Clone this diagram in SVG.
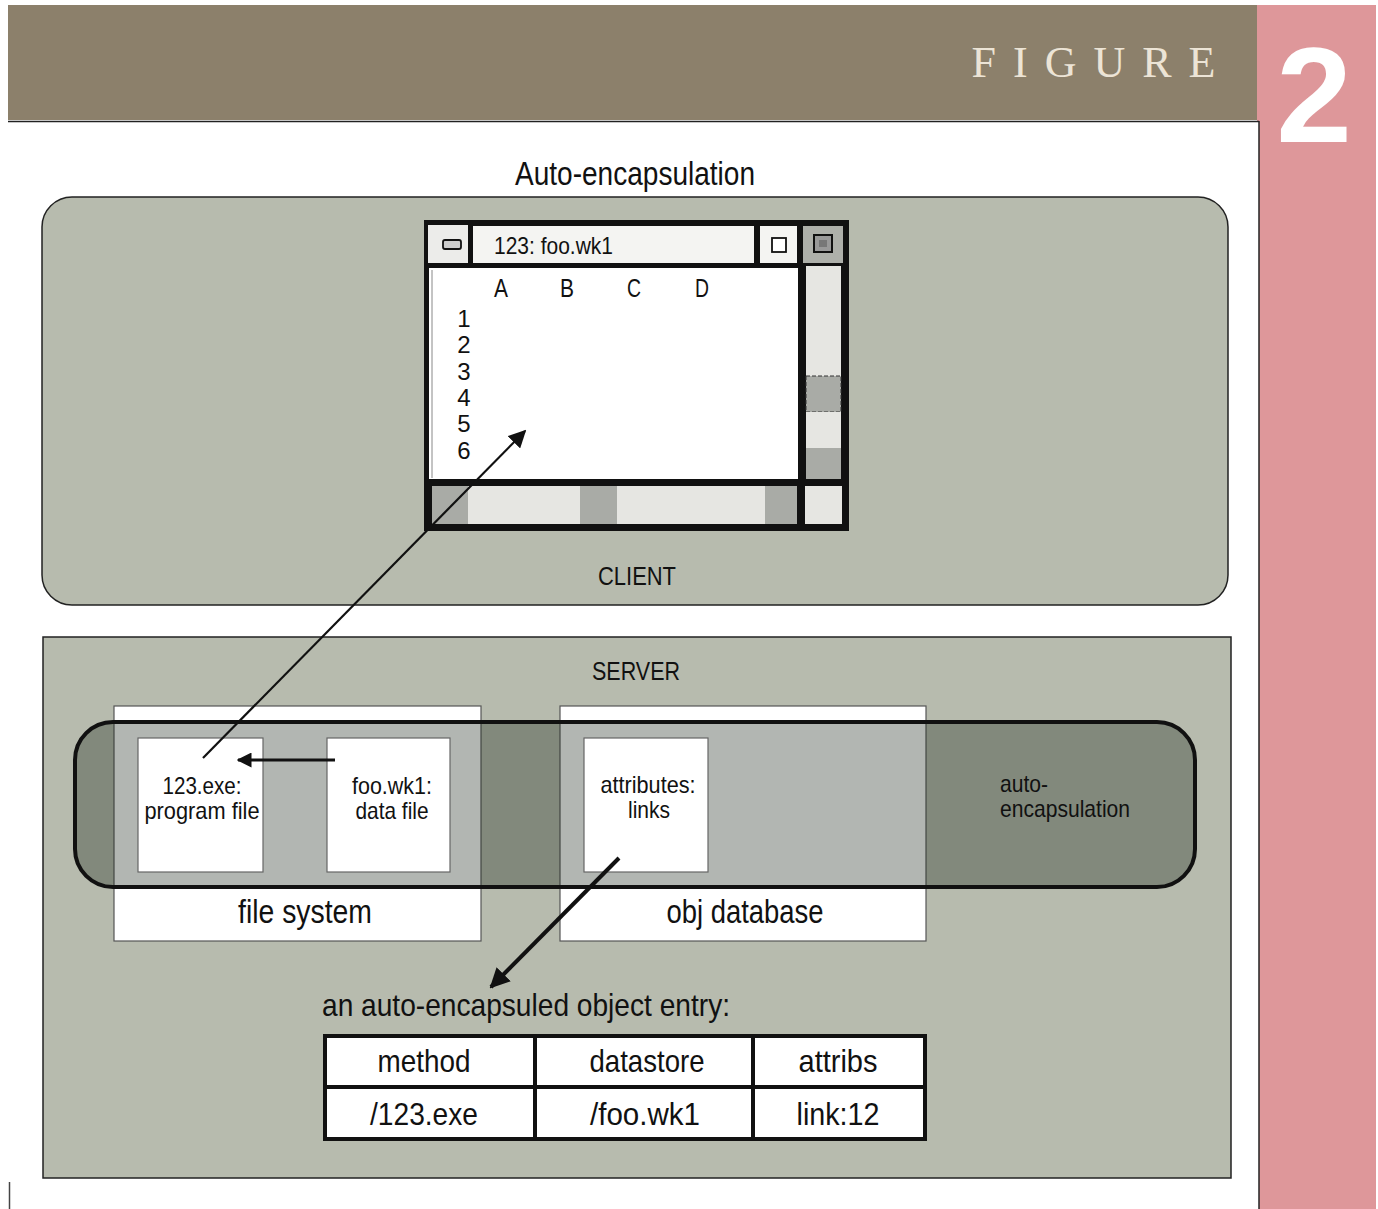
<svg xmlns="http://www.w3.org/2000/svg" width="1378" height="1209" viewBox="0 0 1378 1209">
<style>
.t{font-family:"Liberation Sans","Arimo",Arial,sans-serif;fill:#111;}
.c{text-anchor:middle;}
.panel{fill:#b7bbae;stroke:#222;stroke-width:1.5;}
.wbox{fill:#fff;stroke:#555;stroke-width:1.2;}
.doc{fill:#fff;stroke:#666;stroke-width:1.2;}
.blk{fill:#111;}
.lt{fill:#e6e6e2;}
.dk{fill:#a9aba6;}
.ln{stroke:#111;fill:none;}
</style>
<defs>
<marker id="ah" viewBox="0 0 10 10" refX="9" refY="5" markerWidth="5" markerHeight="5" orient="auto" markerUnits="strokeWidth">
<path d="M0,0 L10,5 L0,10 z" fill="#111"/>
</marker>
<marker id="ah2" viewBox="0 0 10 10" refX="9" refY="5" markerWidth="8" markerHeight="8" orient="auto" markerUnits="strokeWidth">
<path d="M0,0 L10,5 L0,10 z" fill="#111"/>
</marker>
</defs>
<rect x="0" y="0" width="1378" height="1209" fill="#fff"/>
<g id="header">
<rect x="8" y="5" width="1250" height="115" fill="#8c806b"/>
<rect x="1257" y="5" width="119" height="1204" fill="#de979a"/>
<text x="1102" y="77" text-anchor="middle" font-family="'Liberation Serif',serif" font-size="44" letter-spacing="17" fill="#ece4d6">FIGURE</text>
<text x="1314" y="142" text-anchor="middle" font-family="'Liberation Sans',sans-serif" font-weight="bold" font-size="136" fill="#fff">2</text>
</g>
<g id="page">
<rect x="8" y="121" width="1251" height="1090" fill="#fff"/>
<line x1="8" y1="121.5" x2="1259" y2="121.5" stroke="#222" stroke-width="1.5"/>
<line x1="1259" y1="121" x2="1259" y2="1209" stroke="#222" stroke-width="1.5"/>
<line x1="9.5" y1="1182" x2="9.5" y2="1209" stroke="#444" stroke-width="1.5"/>
<text class="t c" x="635" y="185" font-size="33" textLength="240" lengthAdjust="spacingAndGlyphs">Auto-encapsulation</text>
</g>
<g id="client">
<rect class="panel" x="42" y="197" width="1186" height="408" rx="30"/>
<text class="t c" x="637" y="585" font-size="26" textLength="78" lengthAdjust="spacingAndGlyphs">CLIENT</text>
</g>
<g id="window">
<rect class="blk" x="424" y="220" width="425" height="311"/>
<rect x="428" y="225" width="40" height="38" fill="#ececea"/>
<rect x="443" y="240" width="18" height="9" rx="2" fill="#ccc" stroke="#111" stroke-width="1.8"/>
<rect x="473" y="226" width="281" height="37" fill="#f4f4f2"/>
<text class="t" x="494" y="254" font-size="24" textLength="119" lengthAdjust="spacingAndGlyphs">123: foo.wk1</text>
<rect x="760" y="226" width="37" height="37" fill="#f4f4f2"/>
<rect x="772" y="238" width="14" height="14" fill="#fff" stroke="#111" stroke-width="1.8"/>
<rect x="803" y="226" width="40" height="37" fill="#aeb0aa"/>
<rect x="814" y="235" width="18" height="17" fill="#999" stroke="#111" stroke-width="2"/>
<rect x="819" y="240" width="8" height="7" fill="#777"/>
<rect x="429" y="268" width="369" height="211" fill="#fff"/>
<line x1="432" y1="270" x2="432" y2="478" stroke="#888" stroke-width="1"/>
<rect class="lt" x="806" y="266" width="35" height="110"/>
<rect class="dk" x="806" y="376" width="35" height="36" stroke="#333" stroke-width="1" stroke-dasharray="4 2"/>
<rect class="lt" x="806" y="412" width="35" height="36"/>
<rect class="dk" x="806" y="448" width="35" height="31"/>
<rect class="dk" x="432" y="486" width="36" height="38"/>
<rect class="lt" x="468" y="486" width="112" height="38"/>
<rect class="dk" x="580" y="486" width="37" height="38"/>
<rect class="lt" x="617" y="486" width="148" height="38"/>
<rect class="dk" x="765" y="486" width="32" height="38"/>
<rect class="lt" x="805" y="486" width="37" height="38"/>
<g class="t c" font-size="24">
<text x="501" y="297" font-size="25" textLength="14" lengthAdjust="spacingAndGlyphs">A</text>
<text x="567" y="297" font-size="25" textLength="14" lengthAdjust="spacingAndGlyphs">B</text>
<text x="634" y="297" font-size="25" textLength="14" lengthAdjust="spacingAndGlyphs">C</text>
<text x="702" y="297" font-size="25" textLength="14" lengthAdjust="spacingAndGlyphs">D</text>
<text x="464" y="327">1</text>
<text x="464" y="353">2</text>
<text x="464" y="380">3</text>
<text x="464" y="406">4</text>
<text x="464" y="432">5</text>
<text x="464" y="459">6</text>
</g>
</g>
<g id="server">
<rect x="43" y="637" width="1188" height="541" fill="#b7bbae" stroke="#222" stroke-width="1.5"/>
<text class="t c" x="636" y="680" font-size="26" textLength="88" lengthAdjust="spacingAndGlyphs">SERVER</text>
</g>
<g id="file-system">
<rect class="wbox" x="114" y="706" width="367" height="235"/>
<text class="t c" x="305" y="923" font-size="33" textLength="134" lengthAdjust="spacingAndGlyphs">file system</text>
</g>
<g id="obj-database">
<rect class="wbox" x="560" y="706" width="366" height="235"/>
<text class="t c" x="745" y="923" font-size="33" textLength="157" lengthAdjust="spacingAndGlyphs">obj database</text>
</g>
<g id="auto-encapsulation">
<rect x="75" y="722" width="1120" height="165" rx="38" fill="#1e2a1e" fill-opacity="0.34" stroke="#111" stroke-width="4"/>
<text class="t" x="1000" y="792" font-size="24" textLength="48" lengthAdjust="spacingAndGlyphs" fill="#1a1a1a">auto-</text>
<text class="t" x="1000" y="817" font-size="24" textLength="130" lengthAdjust="spacingAndGlyphs" fill="#1a1a1a">encapsulation</text>
</g>
<g id="program-file">
<rect class="doc" x="138" y="738" width="125" height="134"/>
<text class="t c" x="202" y="794" font-size="24" textLength="79" lengthAdjust="spacingAndGlyphs">123.exe:</text>
<text class="t c" x="202" y="819" font-size="24" textLength="115" lengthAdjust="spacingAndGlyphs">program file</text>
</g>
<g id="data-file">
<rect class="doc" x="327" y="738" width="123" height="134"/>
<text class="t c" x="392" y="794" font-size="24" textLength="80" lengthAdjust="spacingAndGlyphs">foo.wk1:</text>
<text class="t c" x="392" y="819" font-size="24" textLength="73" lengthAdjust="spacingAndGlyphs">data file</text>
</g>
<g id="attributes">
<rect class="doc" x="584" y="738" width="124" height="134"/>
<text class="t c" x="648" y="793" font-size="24" textLength="95" lengthAdjust="spacingAndGlyphs">attributes:</text>
<text class="t c" x="649" y="818" font-size="24" textLength="42" lengthAdjust="spacingAndGlyphs">links</text>
</g>
<g id="entry">
<text class="t" x="322" y="1016" font-size="32" textLength="408" lengthAdjust="spacingAndGlyphs">an auto-encapsuled object entry:</text>
<rect x="325" y="1036" width="600" height="103" fill="#fff" stroke="#111" stroke-width="4"/>
<line x1="325" y1="1087" x2="925" y2="1087" stroke="#111" stroke-width="4"/>
<line x1="535" y1="1036" x2="535" y2="1139" stroke="#111" stroke-width="4"/>
<line x1="753" y1="1036" x2="753" y2="1139" stroke="#111" stroke-width="4"/>
<g class="t c" font-size="32">
<text x="424" y="1072" textLength="93" lengthAdjust="spacingAndGlyphs">method</text>
<text x="647" y="1072" textLength="115" lengthAdjust="spacingAndGlyphs">datastore</text>
<text x="838" y="1072" textLength="79" lengthAdjust="spacingAndGlyphs">attribs</text>
<text x="424" y="1125" textLength="108" lengthAdjust="spacingAndGlyphs">/123.exe</text>
<text x="645" y="1125" textLength="110" lengthAdjust="spacingAndGlyphs">/foo.wk1</text>
<text x="838" y="1125" textLength="83" lengthAdjust="spacingAndGlyphs">link:12</text>
</g>
</g>
<g id="connectors">
<line class="ln" x1="203" y1="758" x2="525" y2="431" stroke-width="2.2" marker-end="url(#ah2)"/>
<line class="ln" x1="335" y1="760" x2="238" y2="760" stroke-width="3" marker-end="url(#ah)"/>
<line class="ln" x1="619" y1="858" x2="491" y2="987" stroke-width="4" marker-end="url(#ah)"/>
</g>
</svg>
